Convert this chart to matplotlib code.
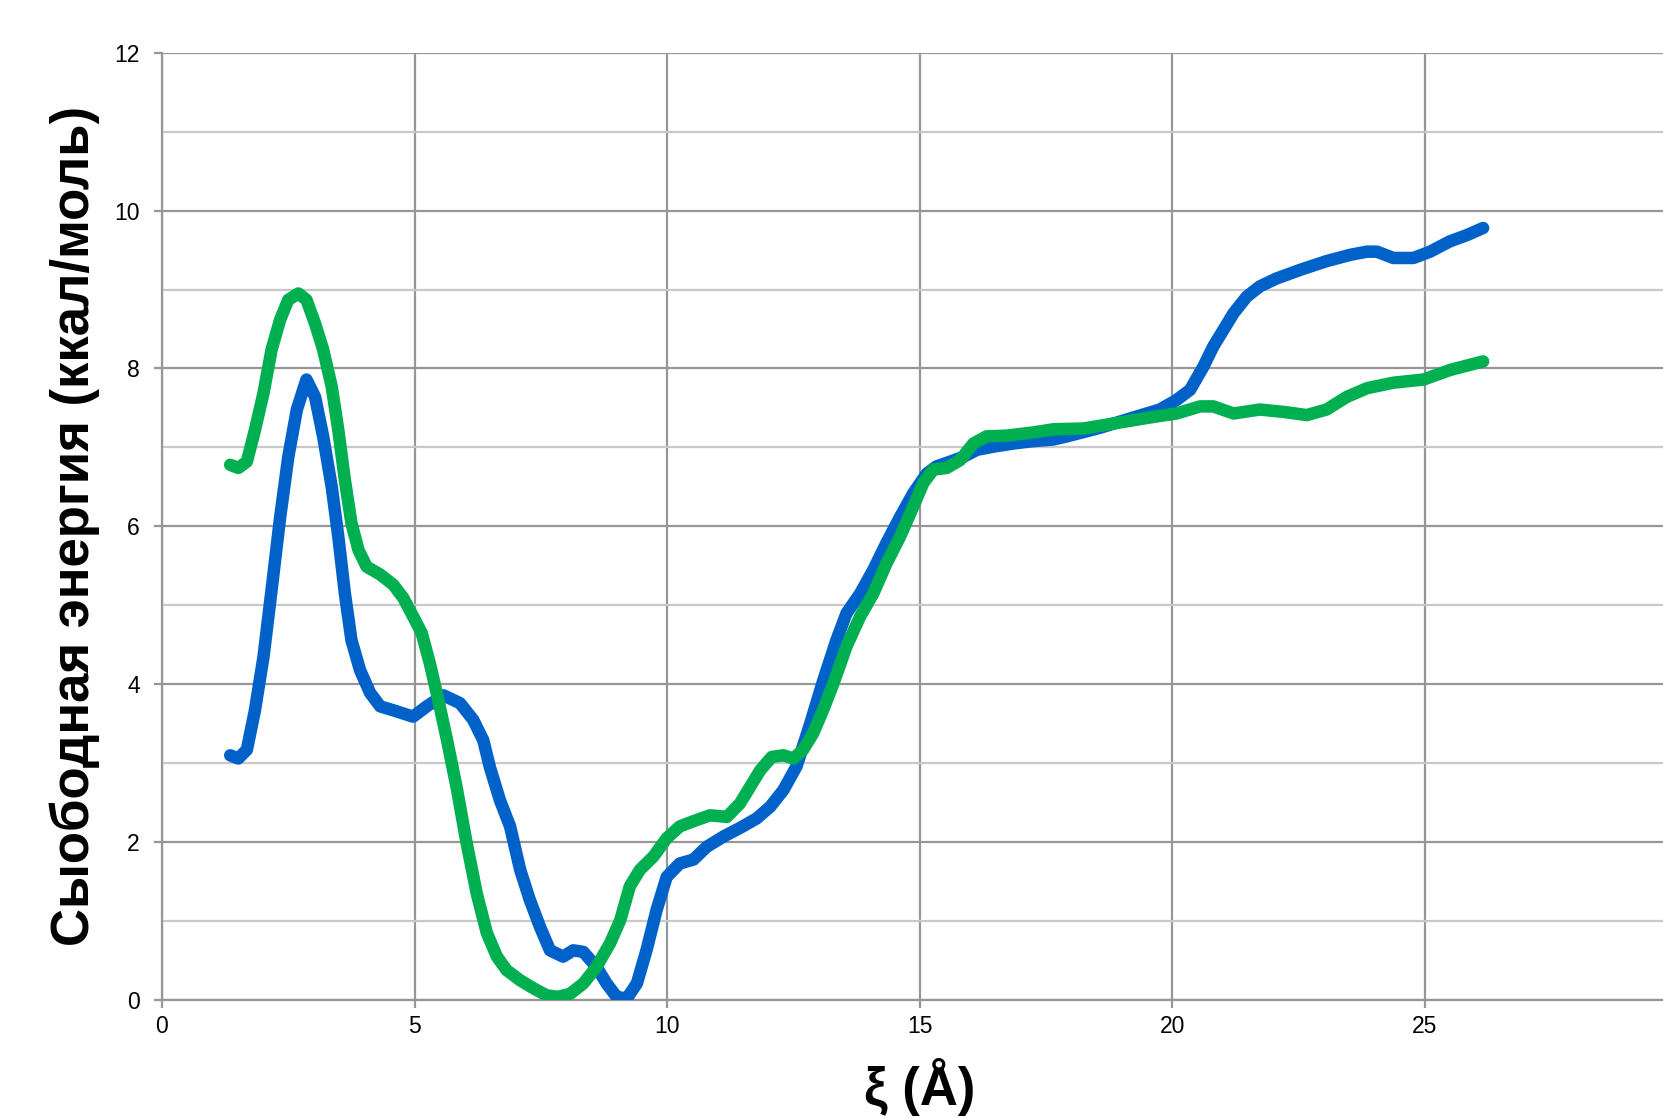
import matplotlib.pyplot as plt
from matplotlib.ticker import MultipleLocator

blue_x = [1.35, 1.51, 1.68, 1.84, 2.01, 2.17, 2.34, 2.50, 2.67, 2.86, 3.03, 3.19, 3.36, 3.49,
          3.62, 3.75, 3.92, 4.12, 4.32, 4.58, 4.97, 5.24, 5.57, 5.90, 6.16, 6.36, 6.49, 6.69,
          6.89, 7.09, 7.28, 7.48, 7.68, 7.94, 8.14, 8.34, 8.60, 8.80, 9.00, 9.20, 9.40, 9.59,
          9.79, 9.99, 10.25, 10.52, 10.78, 11.11, 11.44, 11.77, 12.04, 12.30, 12.56, 12.83,
          13.09, 13.35, 13.55, 13.82, 14.08, 14.34, 14.61, 14.87, 15.14, 15.33, 15.60, 15.86,
          16.13, 16.46, 16.85, 17.25, 17.64, 17.91, 18.57, 19.23, 19.75, 20.08, 20.35, 20.61,
          20.81, 21.01, 21.21, 21.47, 21.73, 22.06, 22.53, 23.05, 23.52, 23.85, 24.05, 24.37,
          24.77, 25.10, 25.49, 25.83, 26.15]
blue_y = [3.10, 3.06, 3.17, 3.67, 4.35, 5.20, 6.12, 6.88, 7.48, 7.86, 7.64, 7.14, 6.50, 5.87,
          5.15, 4.56, 4.18, 3.89, 3.72, 3.67, 3.59, 3.72, 3.86, 3.76, 3.55, 3.29, 2.95, 2.53,
          2.20, 1.65, 1.27, 0.93, 0.63, 0.55, 0.63, 0.61, 0.42, 0.21, 0.04, 0.02, 0.21, 0.63,
          1.14, 1.56, 1.73, 1.78, 1.94, 2.07, 2.18, 2.30, 2.45, 2.66, 2.96, 3.50,
          4.05, 4.56, 4.90, 5.15, 5.45, 5.79, 6.12, 6.42, 6.67, 6.76, 6.82, 6.88,
          6.97, 7.01, 7.05, 7.08, 7.10, 7.14, 7.25, 7.38, 7.48, 7.60, 7.73, 8.02,
          8.28, 8.49, 8.70, 8.91, 9.04, 9.14, 9.25, 9.36, 9.44, 9.48, 9.48, 9.40,
          9.40, 9.48, 9.61, 9.69, 9.78]

green_x = [1.35, 1.51, 1.68, 1.84, 2.01, 2.17, 2.34, 2.50, 2.70, 2.86, 3.03, 3.19, 3.36, 3.49,
           3.62, 3.75, 3.89, 4.05, 4.32, 4.58, 4.78, 4.97, 5.14, 5.30, 5.47, 5.64, 5.83, 6.03,
           6.23, 6.43, 6.63, 6.82, 7.09, 7.35, 7.61, 7.84, 8.08, 8.34, 8.60, 8.87, 9.07, 9.26,
           9.46, 9.73, 9.99, 10.25, 10.58, 10.85, 11.18, 11.44, 11.64, 11.84, 12.07, 12.30,
           12.50, 12.69, 12.89, 13.09, 13.29, 13.55, 13.82, 14.08, 14.34, 14.61, 14.87, 15.07,
           15.27, 15.53, 15.80, 16.06, 16.32, 16.72, 17.25, 17.64, 18.24, 18.90, 19.56, 20.08,
           20.55, 20.81, 21.21, 21.73, 22.20, 22.66, 23.05, 23.45, 23.85, 24.37, 24.97, 25.49,
           26.15]
green_y = [6.78, 6.74, 6.82, 7.22, 7.69, 8.24, 8.62, 8.87, 8.95, 8.87, 8.57, 8.24, 7.77, 7.22,
           6.59, 6.04, 5.70, 5.49, 5.39, 5.26, 5.09, 4.86, 4.65, 4.27, 3.80, 3.30, 2.70, 1.99,
           1.35, 0.85, 0.55, 0.38, 0.25, 0.15, 0.06, 0.04, 0.08, 0.21, 0.42, 0.72, 1.01, 1.44,
           1.65, 1.82, 2.05, 2.20, 2.28, 2.34, 2.32, 2.49, 2.70, 2.91, 3.08, 3.10,
           3.06, 3.17, 3.38, 3.68, 4.01, 4.48, 4.86, 5.15, 5.53, 5.87, 6.25, 6.55,
           6.72, 6.74, 6.84, 7.05, 7.14, 7.15, 7.19, 7.23, 7.24, 7.31, 7.38, 7.43,
           7.52, 7.52, 7.43, 7.48, 7.45, 7.41, 7.48, 7.64, 7.75, 7.82, 7.86, 7.98,
           8.09]

plt.rcParams['font.family'] = ['Liberation Sans', 'DejaVu Sans']

fig = plt.figure(figsize=(16.63, 11.17), dpi=100)
# the plot area runs off the right edge of the picture, like in the original
ax = fig.add_axes([0.0974, 0.1047, 0.9114, 0.8481])

ax.plot(blue_x, blue_y, color='#0062C8', lw=9, solid_capstyle='round', solid_joinstyle='round', zorder=3)
ax.plot(green_x, green_y, color='#00B050', lw=9, solid_capstyle='round', solid_joinstyle='round', zorder=4)

ax.set_xlim(0, 30)
ax.set_ylim(0, 12)
ax.xaxis.set_major_locator(MultipleLocator(5))
ax.yaxis.set_major_locator(MultipleLocator(2))
ax.yaxis.set_minor_locator(MultipleLocator(1))

ax.grid(True, which='major', color='#969696', lw=1.6)
ax.grid(True, which='minor', axis='y', color='#c8c8c8', lw=1.6)
ax.set_axisbelow(True)

for side in ['top', 'right']:
	ax.spines[side].set_visible(False)
for side in ['left', 'bottom']:
	ax.spines[side].set_color('#969696')
	ax.spines[side].set_linewidth(1.6)

ax.tick_params(axis='both', which='major', length=6, width=1.6, color='#969696', labelsize=16.5)
ax.tick_params(axis='y', which='major', pad=10)
ax.tick_params(axis='x', which='major', pad=5)
ax.tick_params(axis='y', which='minor', length=0)

ax.set_ylabel('Сыободная энергия (ккал/моль)', fontsize=38, fontweight='bold')
ax.yaxis.set_label_coords(-0.041, 0.5)
ax.set_xlabel('ξ (Å)', fontsize=38, fontweight='bold', va='center')
ax.xaxis.set_label_coords(0.5, -0.092)

fig.savefig('out.png', dpi=100)
